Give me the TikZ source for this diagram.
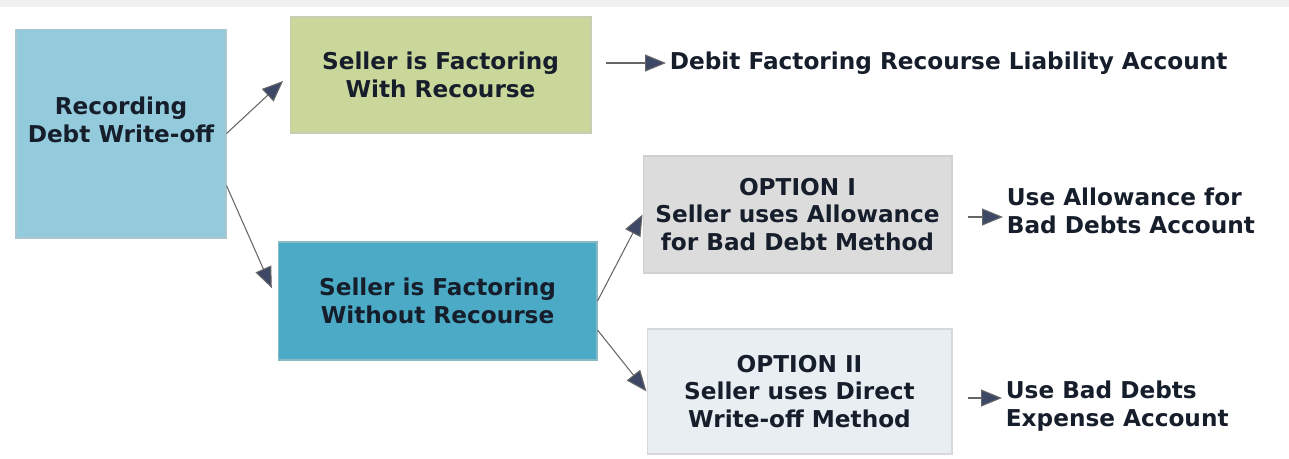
\documentclass[tikz,border=0pt]{standalone}
\usepackage{fontspec}
\setmainfont{DejaVu Sans}
\usepackage{xcolor}
\usetikzlibrary{arrows.meta}

\definecolor{recblue}{HTML}{93CADC}
\definecolor{withgreen}{HTML}{C9D79B}
\definecolor{woblue}{HTML}{4BABC6}
\definecolor{optgray}{HTML}{DCDCDC}
\definecolor{optpale}{HTML}{E9EEF3}
\definecolor{headcol}{HTML}{3D4866}
\definecolor{txtcol}{HTML}{161E2B}

\tikzset{
  box/.style={draw=#1!80!black!60, line width=0.6pt, align=center, text=txtcol,
    font=\fontsize{13.2}{15.8}\selectfont\bfseries, inner sep=2pt},
  note/.style={anchor=west, align=left, text=txtcol,
    font=\fontsize{13.2}{15.8}\selectfont\bfseries, inner sep=2pt},
  link/.style={draw=gray!80!black, line width=0.6pt,
    -{Triangle[length=0.42cm,width=0.34cm,fill=headcol]}}
}

\begin{document}
\begin{tikzpicture}[x=0.02cm,y=-0.02cm]
\useasboundingbox (0,0) rectangle (1289,458);
\fill[gray!12] (0,0) rectangle (1289,7); % strip along the top

% boxes, centres in px
\node[box=recblue, fill=recblue, minimum width=4.2cm, minimum height=4.18cm, text depth=16pt] (rec) at (121,133.5) {Recording\\Debt Write-off};
\node[box=withgreen, fill=withgreen, minimum width=6.02cm, minimum height=2.32cm] (with) at (440.5,75) {Seller is Factoring\\With Recourse};
\node[box=woblue, fill=woblue, minimum width=6.38cm, minimum height=2.36cm] (without) at (437.5,301) {Seller is Factoring\\Without Recourse};
\node[box=optgray, fill=optgray, minimum width=6.18cm, minimum height=2.34cm] (optone) at (797.5,214.5) {OPTION I\\Seller uses Allowance\\for Bad Debt Method};
\node[box=optpale, fill=optpale, minimum width=6.1cm, minimum height=2.5cm] (opttwo) at (799.5,391.5) {OPTION II\\Seller uses Direct\\Write-off Method};

% accounts
\node[note] (liab) at (666,63) {Debit Factoring Recourse Liability Account};
\node[note] (allow) at (1003,210.5) {Use Allowance for\\Bad Debts Account};
\node[note] (expense) at (1002,406) {Use Bad Debts\\Expense Account};

\coordinate (t1) at (606,63);
\coordinate (t2) at (968,217);
\coordinate (t3) at (968,398);

% connectors
\draw[link, shorten >=5pt] (rec.east) -- (with.west);
\draw[link, shorten >=8pt] ([yshift=-1.04cm]rec.east) -- (without.west);
\draw[link] (without.east) -- (optone.west);
\draw[link] ([yshift=-0.58cm]without.east) -- (opttwo.west);
\draw[link] (t1) -- (liab.west);
\draw[link] (t2) -- (t2 -| allow.west);
\draw[link] (t3) -- (t3 -| expense.west);

\end{tikzpicture}
\end{document}
